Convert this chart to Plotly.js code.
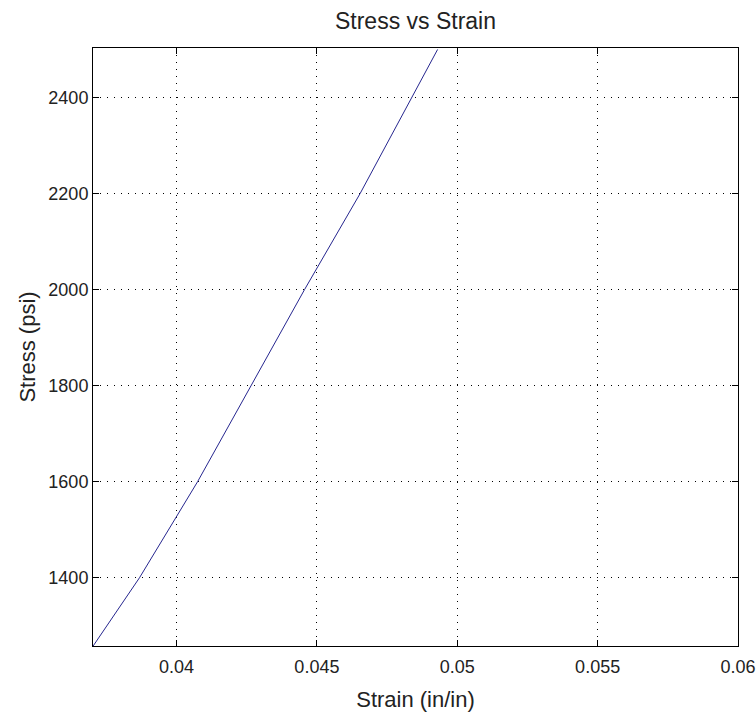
<!DOCTYPE html>
<html>
<head>
<meta charset="utf-8">
<script src="https://cdn.plot.ly/plotly-3.0.1.min.js"></script>
<style>html,body{margin:0;padding:0;background:#fff;}#chart{width:756px;height:714px;}</style>
</head>
<body>
<div id="chart"></div>
<script>
// Data (strain in/in, stress psi)
const strain = [0.03703, 0.03868, 0.04075, 0.04456, 0.04654, 0.04838, 0.04930];
const stress = [1258, 1400, 1600, 2000, 2200, 2400, 2500];

const xTicks = [0.04, 0.045, 0.05, 0.055, 0.06];
const xTickText = ['0.04', '0.045', '0.05', '0.055', '0.06'];
const yTicks = [1400, 1600, 1800, 2000, 2200, 2400];
const yTickText = ['1400', '1600', '1800', '2000', '2200', '2400'];

const FONT = '"Liberation Sans", Arial, sans-serif';
const TXT = '#222';

const trace = {
  x: strain, y: stress, type: 'scatter', mode: 'lines',
  line: {color: '#26268f', width: 1},
  hoverinfo: 'skip', showlegend: false
};

const axisCommon = {
  showline: true, linecolor: '#000', linewidth: 1, mirror: 'ticks',
  ticks: 'inside', ticklen: 6, tickcolor: '#000', tickwidth: 1,
  showgrid: true, gridcolor: '#000', gridwidth: 1, griddash: '1px,6px',
  zeroline: false, tickfont: {family: FONT, size: 18, color: TXT}
};

const layout = {
  width: 756, height: 714,
  margin: {l: 93, r: 18, t: 48, b: 68},
  paper_bgcolor: '#fff', plot_bgcolor: '#fff',
  font: {family: FONT, color: TXT},
  title: {text: 'Stress vs Strain', font: {family: FONT, size: 23, color: TXT},
          x: 0.5, xref: 'paper', y: 1 - 21/714, yref: 'container', yanchor: 'middle'},
  xaxis: Object.assign({}, axisCommon, {
    range: [0.037025, 0.0600002], tickvals: xTicks, ticktext: xTickText,
    ticklabelstandoff: 4,
    title: {text: 'Strain (in/in)', font: {family: FONT, size: 22, color: TXT}, standoff: 16}
  }),
  yaxis: Object.assign({}, axisCommon, {
    range: [1258, 2503], tickvals: yTicks, ticktext: yTickText,
    title: {text: 'Stress (psi)', font: {family: FONT, size: 22, color: TXT}, standoff: 6}
  })
};

Plotly.newPlot('chart', [trace], layout, {displayModeBar: false, staticPlot: true});
</script>
</body>
</html>
